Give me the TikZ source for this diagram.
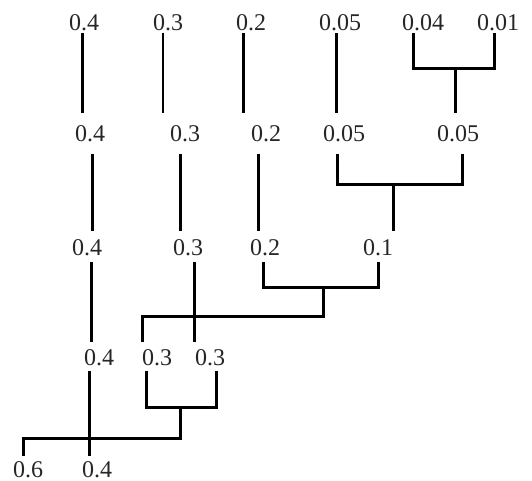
\documentclass[tikz,border=0pt]{standalone}
\usepackage{fontspec}
\setmainfont{Liberation Serif}
\usepackage{tikz}

\begin{document}
\begin{tikzpicture}[x=1pt, y=-1pt,
	val/.style={font=\fontsize{24}{28}\selectfont, text=black!85, anchor=base, inner sep=0pt, text height=17pt, text depth=0pt},
	edge/.style={line width=3pt, black},
	thinedge/.style={line width=1.3pt, black}]
	\useasboundingbox (0,0) rectangle (532,481);

	\node[val, outer sep=2pt] (a1) at (84,31) {0.4};
	\node[val, outer sep=2pt] (a2) at (168,31) {0.3};
	\node[val, outer sep=2pt] (a3) at (251,31) {0.2};
	\node[val, outer sep=2pt] (a4) at (340,31) {0.05};
	\node[val, outer sep=2pt] (a5) at (423,31) {0.04};
	\node[val, outer sep=2pt] (a6) at (498,31) {0.01};

	\node[val, outer sep=12pt] (b1) at (90,142) {0.4};
	\node[val, outer sep=12pt] (b2) at (185,142) {0.3};
	\node[val, outer sep=12pt] (b3) at (266,142) {0.2};
	\node[val, outer sep=12pt] (b4) at (344,142) {0.05};
	\node[val, outer sep=12pt] (b5) at (458,142) {0.05};

	\node[val, outer sep=7pt] (c1) at (87,255) {0.4};
	\node[val, outer sep=7pt] (c2) at (188,255) {0.3};
	\node[val, outer sep=7pt] (c3) at (265,255) {0.2};
	\node[val, outer sep=7pt] (c4) at (378,255) {0.1};

	\node[val, outer sep=6pt] (d1) at (99,365) {0.4};
	\node[val, outer sep=6pt] (d2) at (157,365) {0.3};
	\node[val, outer sep=6pt] (d3) at (210,365) {0.3};

	\node[val, outer sep=4pt] (e1) at (28,477) {0.6};
	\node[val, outer sep=4pt] (e2) at (97,477) {0.4};

	\coordinate (j1) at (455,69);
	\coordinate (j2) at (393,184);
	\coordinate (j3) at (323,287);
	\coordinate (j4) at (142,316);
	\coordinate (j5) at (180,407);
	\coordinate (j6) at (23,438);

	\draw[edge] ([xshift=-2pt]a1.south) -- ([xshift=-2pt]a1.south |- b1.north);
	\draw[thinedge] ([xshift=-5pt]a2.south) -- ([xshift=-5pt]a2.south |- b2.north);
	\draw[edge] ([xshift=-8pt]a3.south) -- ([xshift=-8pt]a3.south |- b3.north);
	\draw[edge] ([xshift=-4pt]a4.south) -- ([xshift=-4pt]a4.south |- b4.north);
	\draw[edge] ([xshift=-10pt]a5.south) |- (j1) -| ([xshift=-4pt]a6.south);
	\draw[edge] (j1) -- (j1 |- b5.north);

	\draw[edge] ([xshift=2pt]b1.south) -- ([xshift=2pt]b1.south |- c1.north);
	\draw[edge] ([xshift=-5pt]b2.south) -- ([xshift=-5pt]b2.south |- c2.north);
	\draw[edge] ([xshift=-8pt]b3.south) -- ([xshift=-8pt]b3.south |- c3.north);
	\draw[edge] ([xshift=-7pt]b4.south) |- (j2) -| ([xshift=4pt]b5.south);
	\draw[edge] (j2) -- (j2 |- c4.north);

	\draw[edge] ([xshift=4pt]c1.south) -- ([xshift=4pt]c1.south |- d1.north);
	\draw[edge] ([xshift=6pt]c2.south) -- ([xshift=6pt]c2.south |- d3.north);
	\draw[edge] ([xshift=-2pt]c3.south) |- (j3) -| (c4.south);
	\draw[edge] (j3) |- (j4) -- (j4 |- d2.north);

	\draw[edge] ([xshift=-10pt]d1.south) -- ([xshift=-10pt]d1.south |- e2.north);
	\draw[edge] ([xshift=-11pt]d2.south) |- (j5) -| ([xshift=6pt]d3.south);
	\draw[edge] (j5) |- (j6) -- (j6 |- e1.north);
\end{tikzpicture}
\end{document}
